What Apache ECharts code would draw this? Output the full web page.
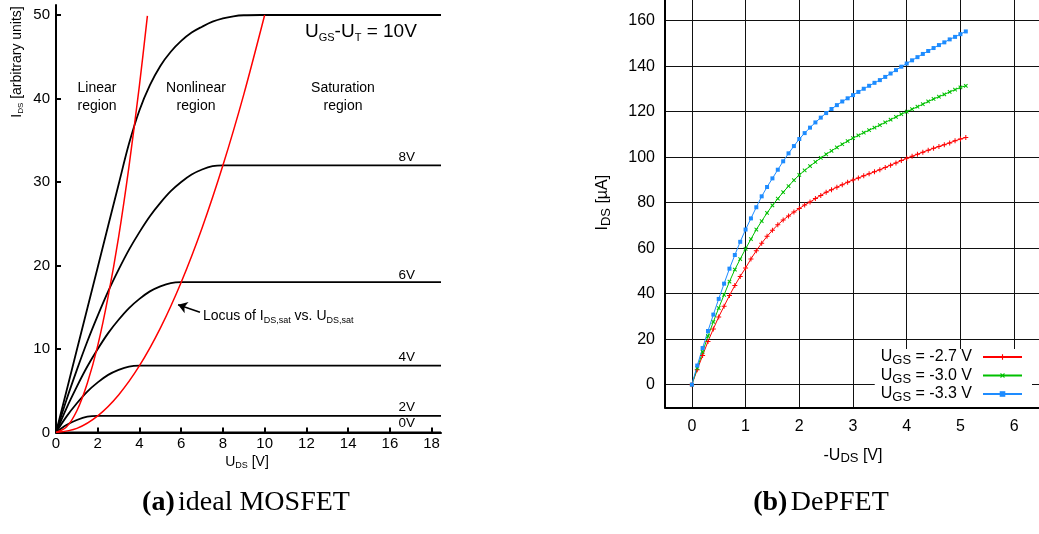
<!DOCTYPE html>
<html>
<head>
<meta charset="utf-8">
<script src="https://cdn.jsdelivr.net/npm/echarts@6/dist/echarts.min.js"></script>
<style>
  html, body { margin: 0; padding: 0; background: #fff; }
  #chart { width: 1039px; height: 534px; }
</style>
</head>
<body>
<div id="chart"></div>
<script>
// ---- (a) ideal MOSFET: output curves as [U_DS, I_DS] for each U_GS-U_T ----
const mosOv10 = [[0,0],[1,9.9],[2,19.8],[3,29.7],[3.5,34.6],[4,38.6],[4.5,41.6],[5,43.9],[5.5,45.6],[6,46.9],[6.5,47.9],[7,48.6],[7.5,49.2],[8,49.6],[8.5,49.85],[9,49.97],[9.8,50],[18.45,50]];
const mosOv8  = [[0,0],[0.5,3.9],[1,7.5],[1.5,10.9],[2,14],[2.5,16.9],[3,19.5],[3.5,21.9],[4,24],[4.5,25.9],[5,27.5],[5.5,28.9],[6,30],[6.5,30.9],[7,31.5],[7.5,31.9],[8,32],[18.45,32]];
const mosOv6  = [[0,0],[0.5,2.9],[1,5.5],[1.5,7.9],[2,10],[2.5,11.9],[3,13.5],[3.5,14.9],[4,16],[4.5,16.9],[5,17.5],[5.5,17.9],[6,18],[18.45,18]];
const mosOv4  = [[0,0],[0.5,1.9],[1,3.5],[1.5,4.9],[2,6],[2.5,6.9],[3,7.5],[3.5,7.9],[4,8],[18.45,8]];
const mosOv2  = [[0,0],[0.5,0.9],[1,1.5],[1.5,1.9],[2,2],[18.45,2]];
const mosOv0  = [[0,0],[18.45,0]];
// boundary of the linear region and locus of I_DS,sat vs. U_DS,sat
const mosLinEdge  = [[0,0],[0.5,0.65],[1,2.6],[1.5,5.9],[2,10.4],[2.5,16.3],[3,23.4],[3.5,31.9],[4,41.6],[4.38,49.9]];
const mosSatLocus = [[0,0],[1,0.5],[2,2],[3,4.5],[4,8],[5,12.5],[6,18],[7,24.5],[8,32],[9,40.5],[10,50]];
const mosCurveNames = ['10V', '8V', '6V', '4V', '2V', '0V'];
const mosXTicks = [0, 2, 4, 6, 8, 10, 12, 14, 16, 18];
const mosYTicks = [0, 10, 20, 30, 40, 50];

// ---- (b) DePFET: measured I_DS [µA] vs. -U_DS [V] ----
const depUds = [0,0.1,0.2,0.3,0.4,0.5,0.6,0.7,0.8,0.9,1.0,1.1,1.2,1.3,1.4,1.5,1.6,1.7,1.8,1.9,2.0,2.1,2.2,2.3,2.4,2.5,2.6,2.7,2.8,2.9,3.0,3.1,3.2,3.3,3.4,3.5,3.6,3.7,3.8,3.9,4.0,4.1,4.2,4.3,4.4,4.5,4.6,4.7,4.8,4.9,5.0,5.1];
const depI27 = [0,6.6,12.8,19.0,24.5,29.8,34.5,39.2,43.6,47.6,51.3,55.3,58.9,62.2,65.2,67.9,70.3,72.4,74.2,75.9,77.4,79.0,80.3,81.8,83.2,84.6,85.7,86.8,87.9,89.0,90.0,90.9,91.8,92.7,93.6,94.5,95.5,96.5,97.5,98.5,99.5,100.4,101.3,102.2,103.1,103.9,104.7,105.5,106.3,107.2,108.0,108.7];
const depI30 = [0,7.3,14.4,21.3,27.6,33.7,39.5,45.3,50.6,55.2,59.7,64.0,68.2,71.9,75.5,78.8,81.8,84.6,87.3,89.9,92.2,94.2,96.1,97.9,99.7,101.3,102.8,104.3,105.7,107.1,108.4,109.6,110.8,111.9,113.0,114.1,115.3,116.5,117.7,118.9,120.0,121.1,122.2,123.3,124.5,125.6,126.6,127.6,128.7,129.7,130.7,131.4];
const depI33 = [0,8.4,16.1,23.6,30.8,37.7,44.4,51.0,57.0,62.8,68.2,73.1,78.0,82.8,86.9,90.7,94.5,98.2,101.7,104.9,108.0,110.6,113.0,115.3,117.4,119.4,121.2,122.9,124.5,125.9,127.3,128.7,130.1,131.4,132.7,133.9,135.3,136.8,138.3,139.8,141.2,142.6,144.0,145.4,146.7,148.0,149.3,150.5,151.8,152.9,154.1,155.3];
const depNames = ['U_GS = -2.7 V', 'U_GS = -3.0 V', 'U_GS = -3.3 V'];

const SANS = 'Liberation Sans, Arial, Helvetica, sans-serif';
const SERIF = 'Liberation Serif, Times New Roman, serif';

const pairs = (xs, ys) => xs.map((x, i) => [x, ys[i]]);
const plusPath = 'path://M4,0H6V4H10V6H6V10H4V6H0V4H4Z';

function mosCurve(data) {
  return {
    type: 'line', xAxisIndex: 0, yAxisIndex: 0, data, smooth: 0.35,
    showSymbol: false, symbol: 'none', silent: true,
    lineStyle: { color: '#000', width: 1.8 }, z: 3
  };
}
function redCurve(data, extra) {
  return Object.assign({
    type: 'line', xAxisIndex: 0, yAxisIndex: 0, data, smooth: 0.3,
    showSymbol: false, symbol: 'none', silent: true,
    lineStyle: { color: '#ff0000', width: 1.5 }, z: 4
  }, extra || {});
}
function depCurve(name, ys, color, symbol, size, rotate) {
  return {
    type: 'line', name, xAxisIndex: 1, yAxisIndex: 1, data: pairs(depUds, ys),
    symbol, symbolSize: size, symbolRotate: rotate || 0, showAllSymbol: true,
    lineStyle: { color, width: 1 }, itemStyle: { color }, silent: true, z: 5
  };
}

const txt = (x, y, text, extra) => ({
  type: 'text', x, y, silent: true,
  style: Object.assign({ text, fill: '#000', font: '14px ' + SANS, align: 'center', verticalAlign: 'middle' }, extra || {})
});

const richSub = (main, sub) => ({
  m: { fontSize: main, fontFamily: SANS, color: '#000', lineHeight: main + 4, verticalAlign: 'middle' },
  s: { fontSize: sub, fontFamily: SANS, color: '#000', lineHeight: main + 4, verticalAlign: 'bottom' }
});

const option = {
  animation: false,
  backgroundColor: '#fff',
  grid: [
    { left: 56, top: 5, width: 385, height: 427.5, outerBoundsMode: 'none' },
    { left: 665, top: -2, width: 376, height: 409.4, outerBoundsMode: 'none' }
  ],
  xAxis: [
    {
      gridIndex: 0, type: 'value', min: 0, max: 18.45,
      axisLine: { onZero: false, lineStyle: { color: '#000', width: 2 } },
      axisTick: { inside: true, length: 5, customValues: mosXTicks, lineStyle: { color: '#000', width: 2 } },
      axisLabel: { customValues: mosXTicks, color: '#000', fontSize: 15, fontFamily: SANS, margin: 4 },
      splitLine: { show: false }
    },
    {
      gridIndex: 1, type: 'value', min: -0.5, max: 6.5, splitNumber: 7,
      axisLine: { onZero: false, lineStyle: { color: '#000', width: 2 } },
      axisTick: { show: false },
      axisLabel: {
        color: '#000', fontSize: 16, fontFamily: SANS, margin: 11,
        formatter: v => (Math.abs(v - Math.round(v)) < 1e-9 ? String(Math.round(v)) : '')
      },
      splitLine: { show: true, lineStyle: { color: '#111', width: 1 } },
      name: '{m|-U}{s|DS}{m| [V]}', nameLocation: 'middle', nameGap: 38,
      nameTextStyle: { rich: richSub(16, 13) }
    }
  ],
  yAxis: [
    {
      gridIndex: 0, type: 'value', min: 0, max: 51.2,
      axisLine: { onZero: false, lineStyle: { color: '#000', width: 2 } },
      axisTick: { inside: true, length: 5, customValues: mosYTicks, lineStyle: { color: '#000', width: 2 } },
      axisLabel: { customValues: mosYTicks, color: '#000', fontSize: 15, fontFamily: SANS, margin: 6 },
      splitLine: { show: false }
    },
    {
      gridIndex: 1, type: 'value', min: -10, max: 170, splitNumber: 9,
      axisLine: { onZero: false, lineStyle: { color: '#000', width: 2 } },
      axisTick: { show: false },
      axisLabel: {
        color: '#000', fontSize: 16, fontFamily: SANS, margin: 10,
        formatter: v => (Math.round(v) % 20 === 0 && Math.abs(v - Math.round(v)) < 1e-9 ? String(Math.round(v)) : '')
      },
      splitLine: { show: true, lineStyle: { color: '#111', width: 1 } },
      name: '{m|I}{s|DS}{m| [µA]}', nameLocation: 'middle', nameGap: 52, nameRotate: 90,
      nameTextStyle: { rich: richSub(16, 13) }
    }
  ],
  legend: {
    data: depNames, orient: 'vertical', right: 7, top: 349, align: 'right',
    itemWidth: 39, itemHeight: 7, itemGap: 0.5, selectedMode: false,
    backgroundColor: '#fff', padding: [0, 9, 3, 6],
    formatter: n => '{m|U}{s|GS}{m|' + n.slice(4) + '}{p|}',
    textStyle: { rich: Object.assign(richSub(16, 13), { p: { width: 6 } }) }
  },
  series: [
    mosCurve(mosOv10), mosCurve(mosOv8), mosCurve(mosOv6),
    mosCurve(mosOv4), mosCurve(mosOv2), mosCurve(mosOv0),
    redCurve(mosLinEdge),
    redCurve(mosSatLocus, {
      markLine: {
        silent: true, symbol: ['none', 'arrow'], symbolSize: 9,
        label: { show: false },
        lineStyle: { color: '#000', width: 1.6, type: 'solid' },
        data: [[{ coord: [6.9, 14.4] }, { coord: [5.85, 15.3] }]]
      }
    }),
    depCurve(depNames[0], depI27, '#ff0000', plusPath, 5),
    depCurve(depNames[1], depI30, '#00c000', plusPath, 5, 45),
    depCurve(depNames[2], depI33, '#1e8cff', 'rect', 4)
  ],
  graphic: [
    // y-axis title of (a)
    {
      type: 'text', x: 17, y: 62, rotation: Math.PI / 2, silent: true,
      style: { text: '{m|I}{s|DS}{m| [arbitrary units]}', align: 'center', verticalAlign: 'middle',
               rich: { m: { fontSize: 14, fontFamily: SANS, color: '#000', lineHeight: 16 },
                       s: { fontSize: 8, fontFamily: SANS, color: '#000', lineHeight: 16, verticalAlign: 'bottom' } } }
    },
    // x-axis title of (a)
    {
      type: 'text', x: 247, y: 462, silent: true,
      style: { text: '{m|U}{s|DS}{m| [V]}', align: 'center', verticalAlign: 'middle',
               rich: { m: { fontSize: 14, fontFamily: SANS, color: '#000', lineHeight: 17 },
                       s: { fontSize: 9, fontFamily: SANS, color: '#000', lineHeight: 17, verticalAlign: 'bottom' } } }
    },
    // overdrive of the top curve
    {
      type: 'text', x: 305, y: 32, silent: true,
      style: { text: '{m|U}{s|GS}{m|-U}{s|T}{m| = 10V}', align: 'left', verticalAlign: 'middle',
               rich: { m: { fontSize: 19, fontFamily: SANS, color: '#000', lineHeight: 23 },
                       s: { fontSize: 11, fontFamily: SANS, color: '#000', lineHeight: 23, verticalAlign: 'bottom' } } }
    },
    txt(97, 97, 'Linear\nregion', { lineHeight: 18 }),
    txt(196, 97, 'Nonlinear\nregion', { lineHeight: 18 }),
    txt(343, 97, 'Saturation\nregion', { lineHeight: 18 }),
    txt(415, 157, mosCurveNames[1], { align: 'right', font: '13.5px ' + SANS }),
    txt(415, 275, mosCurveNames[2], { align: 'right', font: '13.5px ' + SANS }),
    txt(415, 357, mosCurveNames[3], { align: 'right', font: '13.5px ' + SANS }),
    txt(415, 407, mosCurveNames[4], { align: 'right', font: '13.5px ' + SANS }),
    txt(415, 423, mosCurveNames[5], { align: 'right', font: '13.5px ' + SANS }),
    {
      type: 'text', x: 203, y: 316, silent: true,
      style: { text: '{m|Locus of I}{s|DS,sat}{m| vs. U}{s|DS,sat}', align: 'left', verticalAlign: 'middle',
               rich: { m: { fontSize: 14, fontFamily: SANS, color: '#000', lineHeight: 18 },
                       s: { fontSize: 9, fontFamily: SANS, color: '#000', lineHeight: 18, verticalAlign: 'bottom' } } }
    },
    // sub-figure captions
    {
      type: 'text', x: 246, y: 503, silent: true,
      style: { text: '{b|(a)} {r|ideal MOSFET}', align: 'center', verticalAlign: 'middle',
               rich: { b: { fontSize: 28, fontFamily: SERIF, fontWeight: 'bold', color: '#000' },
                       r: { fontSize: 28, fontFamily: SERIF, color: '#000' } } }
    },
    {
      type: 'text', x: 821, y: 503, silent: true,
      style: { text: '{b|(b)} {r|DePFET}', align: 'center', verticalAlign: 'middle',
               rich: { b: { fontSize: 28, fontFamily: SERIF, fontWeight: 'bold', color: '#000' },
                       r: { fontSize: 28, fontFamily: SERIF, color: '#000' } } }
    }
  ]
};

const chart = echarts.init(document.getElementById('chart'), null, { renderer: 'canvas' });
chart.setOption(option);
</script>
</body>
</html>
